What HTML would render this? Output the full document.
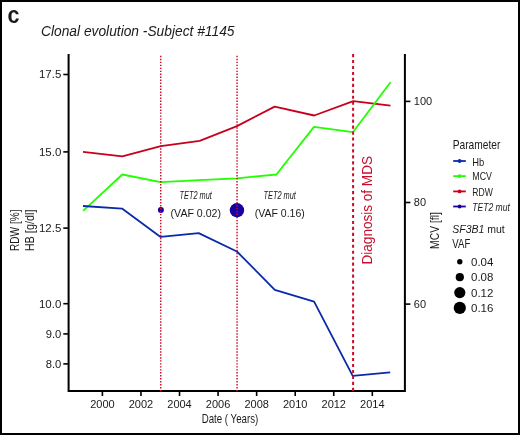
<!DOCTYPE html>
<html><head><meta charset="utf-8">
<style>
html,body{margin:0;padding:0;background:#fff;}
body{width:520px;height:435px;overflow:hidden;}
svg{display:block;will-change:transform;}
text{font-family:"Liberation Sans",sans-serif;fill:#1a1a1a;}
</style></head>
<body>
<svg width="520" height="435" viewBox="0 0 520 435">
<rect x="0" y="0" width="520" height="435" fill="#fff"/>
<rect x="1" y="1" width="518" height="433" fill="none" stroke="#000" stroke-width="2"/>
<!-- panel letter -->
<text transform="translate(7.4,22.6) scale(0.92,1)" font-size="23.4" font-weight="bold" fill="#000">c</text>
<!-- title -->
<text x="41" y="35.8" font-size="14" font-style="italic" textLength="193.5" lengthAdjust="spacingAndGlyphs">Clonal evolution -Subject #1145</text>

<!-- data lines -->
<g fill="none" stroke-width="1.8" stroke-linejoin="round">
<polyline stroke="#c8001e" points="83,151.9 122.3,156.3 160.8,146.1 199.7,140.8 237,126.1 274.7,106.6 314.2,115.5 353.3,101.2 390.5,105.7"/>
<polyline stroke="#22ff00" points="83.1,210.9 122.3,174.5 160.8,182.1 199.5,180.2 237,178.3 276.4,174.5 314,126.9 352.9,132.2 390.5,82.2"/>
<polyline stroke="#0a2aaa" points="83,206 122,208.6 160.6,236.9 198.7,233.1 236.9,251.5 274.8,289.8 314.1,301.6 352.7,375.8 390.2,372.3"/>
</g>
<!-- TET2 dots -->
<circle cx="160.9" cy="210.05" r="3" fill="#1a00a0"/>
<circle cx="236.95" cy="210.25" r="7.2" fill="#1a00a0"/>

<!-- axes -->
<g stroke="#000" fill="none">
<polyline stroke-width="2" points="68.6,54 68.6,391 404.9,391 404.9,54"/>
<g stroke-width="1.6">
<line x1="63.3" y1="74.5" x2="69" y2="74.5"/>
<line x1="63.3" y1="151.9" x2="69" y2="151.9"/>
<line x1="63.3" y1="228.1" x2="69" y2="228.1"/>
<line x1="63.3" y1="303.7" x2="69" y2="303.7"/>
<line x1="63.3" y1="333.9" x2="69" y2="333.9"/>
<line x1="63.3" y1="363.9" x2="69" y2="363.9"/>
<line x1="404.9" y1="101.4" x2="410.4" y2="101.4"/>
<line x1="404.9" y1="202.5" x2="410.4" y2="202.5"/>
<line x1="404.9" y1="304.1" x2="410.4" y2="304.1"/>
<line x1="102.4" y1="391" x2="102.4" y2="396"/>
<line x1="140.96" y1="391" x2="140.96" y2="396"/>
<line x1="179.52" y1="391" x2="179.52" y2="396"/>
<line x1="218.08" y1="391" x2="218.08" y2="396"/>
<line x1="256.64" y1="391" x2="256.64" y2="396"/>
<line x1="295.2" y1="391" x2="295.2" y2="396"/>
<line x1="333.76" y1="391" x2="333.76" y2="396"/>
<line x1="372.32" y1="391" x2="372.32" y2="396"/>
</g>
</g>

<!-- vertical event lines -->
<g stroke="#cc0a28" fill="none">
<line x1="160.75" y1="55.7" x2="160.75" y2="392" stroke-width="1.45" stroke-dasharray="1.45 1.535"/>
<line x1="237.05" y1="55.7" x2="237.05" y2="392" stroke-width="1.45" stroke-dasharray="1.45 1.535"/>
<line x1="353.1" y1="54" x2="353.1" y2="392" stroke-width="2" stroke-dasharray="3.15 2.81"/>
</g>

<!-- left tick labels -->
<g font-size="11.5" text-anchor="end">
<text x="61.3" y="78" textLength="22.3" lengthAdjust="spacingAndGlyphs">17.5</text>
<text x="61.3" y="155.8" textLength="22.3" lengthAdjust="spacingAndGlyphs">15.0</text>
<text x="61.3" y="232" textLength="22.3" lengthAdjust="spacingAndGlyphs">12.5</text>
<text x="61.3" y="307.6" textLength="22.3" lengthAdjust="spacingAndGlyphs">10.0</text>
<text x="61.3" y="337.8" textLength="15.6" lengthAdjust="spacingAndGlyphs">9.0</text>
<text x="61.3" y="367.8" textLength="15.6" lengthAdjust="spacingAndGlyphs">8.0</text>
</g>
<!-- right tick labels -->
<g font-size="11.5">
<text x="413.8" y="104.8" textLength="18.35" lengthAdjust="spacingAndGlyphs">100</text>
<text x="413.8" y="206" textLength="12.23" lengthAdjust="spacingAndGlyphs">80</text>
<text x="413.8" y="307.6" textLength="12.23" lengthAdjust="spacingAndGlyphs">60</text>
</g>
<!-- x tick labels -->
<g font-size="11.5" text-anchor="middle">
<text x="102.4" y="407.5" textLength="24.46" lengthAdjust="spacingAndGlyphs">2000</text>
<text x="140.96" y="407.5" textLength="24.46" lengthAdjust="spacingAndGlyphs">2002</text>
<text x="179.52" y="407.5" textLength="24.46" lengthAdjust="spacingAndGlyphs">2004</text>
<text x="218.08" y="407.5" textLength="24.46" lengthAdjust="spacingAndGlyphs">2006</text>
<text x="256.64" y="407.5" textLength="24.46" lengthAdjust="spacingAndGlyphs">2008</text>
<text x="295.2" y="407.5" textLength="24.46" lengthAdjust="spacingAndGlyphs">2010</text>
<text x="333.76" y="407.5" textLength="24.46" lengthAdjust="spacingAndGlyphs">2012</text>
<text x="372.32" y="407.5" textLength="24.46" lengthAdjust="spacingAndGlyphs">2014</text>
</g>

<!-- axis titles -->
<text x="201.7" y="422.9" font-size="13.3" textLength="56.6" lengthAdjust="spacingAndGlyphs">Date ( Years)</text>
<text transform="translate(19,251) rotate(-90)" font-size="13.6" textLength="41.5" lengthAdjust="spacingAndGlyphs">RDW [%]</text>
<text transform="translate(34.4,251.3) rotate(-90)" font-size="13.6" textLength="41.8" lengthAdjust="spacingAndGlyphs">HB [g/dl]</text>
<text transform="translate(439,248.9) rotate(-90)" font-size="12.8" textLength="36.7" lengthAdjust="spacingAndGlyphs">MCV [fl]</text>

<!-- annotations -->
<text x="179.6" y="198.9" font-size="10" font-style="italic" textLength="32.3" lengthAdjust="spacingAndGlyphs">TET2 mut</text>
<text x="263.5" y="198.9" font-size="10" font-style="italic" textLength="32.3" lengthAdjust="spacingAndGlyphs">TET2 mut</text>
<text x="170.6" y="216.8" font-size="10" textLength="50.4" lengthAdjust="spacingAndGlyphs">(VAF 0.02)</text>
<text x="254.8" y="216.8" font-size="10" textLength="50" lengthAdjust="spacingAndGlyphs">(VAF 0.16)</text>
<text transform="translate(371.8,264.5) rotate(-90)" font-size="14" fill="#c8102e" style="fill:#c8102e" textLength="108.5" lengthAdjust="spacingAndGlyphs">Diagnosis of MDS</text>

<!-- legend -->
<text x="452.7" y="149" font-size="12.8" textLength="47.6" lengthAdjust="spacingAndGlyphs">Parameter</text>
<g stroke-width="1.8">
<line x1="453.2" y1="161" x2="465.8" y2="161" stroke="#0a2aaa"/>
<line x1="453.2" y1="176.1" x2="465.8" y2="176.1" stroke="#22ff00"/>
<line x1="453.2" y1="191.4" x2="465.8" y2="191.4" stroke="#c8001e"/>
<line x1="453.2" y1="206.5" x2="465.8" y2="206.5" stroke="#1a00a0"/>
</g>
<circle cx="459.6" cy="161" r="1.9" fill="#0a2aaa"/>
<circle cx="459.6" cy="176.1" r="1.9" fill="#22ff00"/>
<circle cx="459.6" cy="191.4" r="1.9" fill="#c8001e"/>
<circle cx="459.6" cy="206.5" r="1.9" fill="#1a00a0"/>
<g font-size="11.5" lengthAdjust="spacingAndGlyphs">
<text x="472.3" y="165.6" textLength="12" lengthAdjust="spacingAndGlyphs">Hb</text>
<text x="472.3" y="180.4" textLength="19.6" lengthAdjust="spacingAndGlyphs">MCV</text>
<text x="472.3" y="195.5" textLength="20.5" lengthAdjust="spacingAndGlyphs">RDW</text>
<text x="472.3" y="210.75" font-style="italic" textLength="37.5" lengthAdjust="spacingAndGlyphs">TET2 mut</text>
</g>
<text x="452.3" y="232.7" font-size="10.5" textLength="52.5" lengthAdjust="spacingAndGlyphs"><tspan font-style="italic">SF3B1</tspan> mut</text>
<text x="452.3" y="247.7" font-size="12.8" textLength="18" lengthAdjust="spacingAndGlyphs">VAF</text>
<circle cx="459.8" cy="261.7" r="2.7" fill="#000"/>
<circle cx="459.8" cy="277.2" r="4.1" fill="#000"/>
<circle cx="459.8" cy="292.6" r="5.6" fill="#000"/>
<circle cx="459.8" cy="307.9" r="6.1" fill="#000"/>
<g font-size="11.5">
<text x="471" y="265.5">0.04</text>
<text x="471" y="281">0.08</text>
<text x="471" y="296.5">0.12</text>
<text x="471" y="311.7">0.16</text>
</g>
</svg>
</body></html>
